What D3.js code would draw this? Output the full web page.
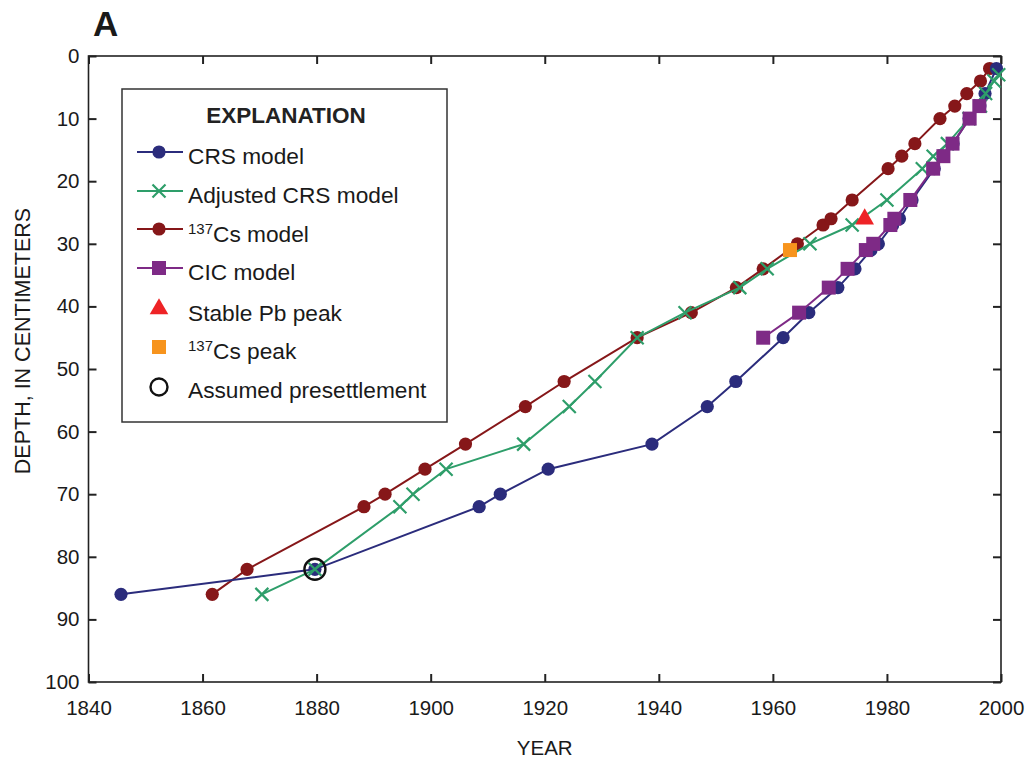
<!DOCTYPE html>
<html>
<head>
<meta charset="utf-8">
<script src="https://cdn.jsdelivr.net/npm/d3@7"></script>
<style>
  html, body { margin: 0; padding: 0; background: #fff; }
  svg { display: block; font-family: Arial, "Liberation Sans", Helvetica, sans-serif; }
</style>
</head>
<body>
<svg id="chart" width="1033" height="763"></svg>
<script>
// ---- Data (year, depth in cm) ----
const crsYears   = [1845.7, 1879.7, 1908.5, 1912.2, 1920.6, 1938.8, 1948.5, 1953.5, 1961.8, 1966.3, 1971.4, 1974.4, 1977.2, 1978.5, 1981.0, 1982.2, 1984.4, 1988.3, 1989.9, 1991.6, 1994.4, 1996.3, 1997.2, 1999.2];
const crsDepth   = [86, 82, 72, 70, 66, 62, 56, 52, 45, 41, 37, 34, 31, 30, 27, 26, 23, 18, 16, 14, 10, 8, 6, 2];

const adjYears   = [1870.4, 1879.7, 1894.6, 1896.9, 1902.7, 1916.3, 1924.3, 1928.8, 1936.2, 1944.6, 1954.2, 1959.0, 1966.5, 1973.9, 1980.0, 1986.2, 1988.1, 1990.6, 1994.4, 1996.4, 1997.3, 1998.8, 1999.6];
const adjDepth   = [86, 82, 72, 70, 66, 62, 56, 52, 45, 41, 37, 34, 30, 27, 23, 18, 16, 14, 10, 8, 6, 4, 3];

const csYears    = [1861.7, 1867.8, 1888.3, 1892.0, 1899.0, 1906.1, 1916.6, 1923.4, 1936.2, 1945.7, 1953.6, 1958.3, 1964.3, 1968.8, 1970.2, 1973.9, 1980.2, 1982.6, 1984.9, 1989.3, 1991.9, 1994.0, 1996.4, 1998.0];
const csDepth    = [86, 82, 72, 70, 66, 62, 56, 52, 45, 41, 37, 34, 30, 27, 26, 23, 18, 16, 14, 10, 8, 6, 4, 2];

const cicYears   = [1958.3, 1964.6, 1969.8, 1973.1, 1976.3, 1977.6, 1980.6, 1981.3, 1984.1, 1988.1, 1989.9, 1991.5, 1994.5, 1996.2];
const cicDepth   = [45, 41, 37, 34, 31, 30, 27, 26, 23, 18, 16, 14, 10, 8];

const pbPeak     = [[1976.1, 26.2]];
const csPeak     = [[1963.0, 31]];
const presettle  = [[1879.7, 82]];

const xTicks = [1840, 1860, 1880, 1900, 1920, 1940, 1960, 1980, 2000];
const yTicks = [0, 10, 20, 30, 40, 50, 60, 70, 80, 90, 100];

const legendLabels = ["CRS model", "Adjusted CRS model", "137|Cs model", "CIC model", "Stable Pb peak", "137|Cs peak", "Assumed presettlement"];

// ---- Colors ----
const C_CRS = "#2b2c7c", C_ADJ = "#2e9e6a", C_CS = "#861719", C_CIC = "#7e2a86", C_PB = "#ee2326", C_CSP = "#f7941d";

const zip = (a, b) => a.map((v, i) => [v, b[i]]);
const svg = d3.select("#chart");

const x = d3.scaleLinear().domain([1840, 2000]).range([88.5, 1001]);
const y = d3.scaleLinear().domain([0, 100]).range([56, 682]);

// ---- Frame & ticks ----
const axisColor = "#222";
const FONT = "Arial, 'Liberation Sans', sans-serif";
const g = svg.append("g");
g.append("rect").attr("x", x(1840)).attr("y", y(0)).attr("width", x(2000) - x(1840)).attr("height", y(100) - y(0))
  .attr("fill", "none").attr("stroke", axisColor).attr("stroke-width", 1.6);

const tl = 8;
g.append("g").attr("transform", `translate(0,${y(100)})`)
  .call(d3.axisBottom(x).tickValues(xTicks).tickFormat(d3.format("d")).tickSizeInner(-tl).tickSizeOuter(0).tickPadding(18))
  .call(a => { a.select(".domain").remove(); a.selectAll("line").attr("stroke", axisColor).attr("stroke-width", 2);
    a.selectAll("text").attr("font-size", 20.5).attr("fill", "#1a1a1a").attr("font-family", FONT); });
g.append("g").attr("transform", `translate(0,${y(0)})`)
  .call(d3.axisTop(x).tickValues(xTicks).tickFormat("").tickSizeInner(-tl).tickSizeOuter(0))
  .call(a => { a.select(".domain").remove(); a.selectAll("line").attr("stroke", axisColor).attr("stroke-width", 2); });
g.append("g").attr("transform", `translate(${x(1840)},0)`)
  .call(d3.axisLeft(y).tickValues(yTicks).tickSizeInner(-tl).tickSizeOuter(0).tickPadding(9))
  .call(a => { a.select(".domain").remove(); a.selectAll("line").attr("stroke", axisColor).attr("stroke-width", 2);
    a.selectAll("text").attr("font-size", 20.5).attr("fill", "#1a1a1a").attr("font-family", FONT); });
g.append("g").attr("transform", `translate(${x(2000)},0)`)
  .call(d3.axisRight(y).tickValues(yTicks).tickFormat("").tickSizeInner(-tl).tickSizeOuter(0))
  .call(a => { a.select(".domain").remove(); a.selectAll("line").attr("stroke", axisColor).attr("stroke-width", 2); });

// Axis titles
svg.append("text").attr("x", (x(1840) + x(2000)) / 2).attr("y", 755).attr("text-anchor", "middle")
  .attr("font-size", 20.5).attr("fill", "#1a1a1a").text("YEAR");
svg.append("text").attr("transform", `translate(30,341) rotate(-90)`).attr("text-anchor", "middle")
  .attr("font-size", 21.5).attr("fill", "#1a1a1a").text("DEPTH, IN CENTIMETERS");
svg.append("text").attr("x", 93).attr("y", 36).attr("font-size", 35).attr("font-weight", "bold")
  .attr("fill", "#1a1a1a").text("A");

// ---- Series ----
const line = d3.line().x(d => x(d[0])).y(d => y(d[1]));
const plot = svg.append("g");

function drawCircles(data, color) {
  plot.append("path").datum(data).attr("d", line).attr("fill", "none").attr("stroke", color).attr("stroke-width", 2);
  plot.append("g").selectAll("circle").data(data).join("circle")
    .attr("cx", d => x(d[0])).attr("cy", d => y(d[1])).attr("r", 6.6).attr("fill", color);
}
function drawX(data, color) {
  plot.append("path").datum(data).attr("d", line).attr("fill", "none").attr("stroke", color).attr("stroke-width", 2);
  const s = 6.5;
  plot.append("g").selectAll("path").data(data).join("path")
    .attr("d", d => { const cx = x(d[0]), cy = y(d[1]);
      return `M${cx - s},${cy - s}L${cx + s},${cy + s}M${cx - s},${cy + s}L${cx + s},${cy - s}`; })
    .attr("stroke", color).attr("stroke-width", 2.2).attr("fill", "none");
}
function drawSquares(data, color, withLine, size) {
  if (withLine) plot.append("path").datum(data).attr("d", line).attr("fill", "none").attr("stroke", color).attr("stroke-width", 2);
  plot.append("g").selectAll("rect").data(data).join("rect")
    .attr("x", d => x(d[0]) - size / 2).attr("y", d => y(d[1]) - size / 2)
    .attr("width", size).attr("height", size).attr("fill", color);
}

drawCircles(zip(csYears, csDepth), C_CS);
drawCircles(zip(crsYears, crsDepth), C_CRS);
drawX(zip(adjYears, adjDepth), C_ADJ);
drawSquares(zip(cicYears, cicDepth), C_CIC, true, 14);

// Stable Pb peak triangle
const tri = d3.symbol().type(d3.symbolTriangle).size(150);
plot.append("g").selectAll("path").data(pbPeak).join("path")
  .attr("transform", d => `translate(${x(d[0])},${y(d[1]) - 1})`).attr("d", tri).attr("fill", C_PB);
drawSquares(csPeak, C_CSP, false, 14);
plot.append("g").selectAll("circle").data(presettle).join("circle")
  .attr("cx", d => x(d[0])).attr("cy", d => y(d[1])).attr("r", 10.5)
  .attr("fill", "none").attr("stroke", "#111").attr("stroke-width", 2.4);

// ---- Legend ----
const lg = svg.append("g");
lg.append("rect").attr("x", 122).attr("y", 89).attr("width", 325).attr("height", 333)
  .attr("fill", "#fff").attr("stroke", "#333").attr("stroke-width", 1.5);
lg.append("text").attr("x", 286).attr("y", 123).attr("text-anchor", "middle")
  .attr("font-size", 22.5).attr("font-weight", "bold").attr("fill", "#222").text("EXPLANATION");

const rowY = [152, 191, 229, 268, 309, 347, 387];
const textY = [164, 203, 242, 280, 321, 359, 398];
const lx0 = 137, lx1 = 183, mx = 159, tx = 188;

legendLabels.forEach((lab, i) => {
  const t = lg.append("text").attr("x", tx).attr("y", textY[i]).attr("font-size", 22.7).attr("fill", "#1a1a1a");
  if (lab.includes("|")) {
    const [sup, rest] = lab.split("|");
    t.append("tspan").attr("font-size", 15).attr("dy", -8).text(sup);
    t.append("tspan").attr("dy", 8).text(rest);
  } else t.text(lab);
});
// legend markers
const ly = i => rowY[i];
[[0, C_CRS], [2, C_CS]].forEach(([i, c]) => {
  lg.append("line").attr("x1", lx0).attr("x2", lx1).attr("y1", ly(i)).attr("y2", ly(i)).attr("stroke", c).attr("stroke-width", 2);
  lg.append("circle").attr("cx", mx).attr("cy", ly(i)).attr("r", 6.6).attr("fill", c);
});
lg.append("line").attr("x1", lx0).attr("x2", lx1).attr("y1", ly(1)).attr("y2", ly(1)).attr("stroke", C_ADJ).attr("stroke-width", 2);
lg.append("path").attr("d", `M${mx - 6.5},${ly(1) - 6.5}L${mx + 6.5},${ly(1) + 6.5}M${mx - 6.5},${ly(1) + 6.5}L${mx + 6.5},${ly(1) - 6.5}`)
  .attr("stroke", C_ADJ).attr("stroke-width", 2.2);
lg.append("line").attr("x1", lx0).attr("x2", lx1).attr("y1", ly(3)).attr("y2", ly(3)).attr("stroke", C_CIC).attr("stroke-width", 2);
lg.append("rect").attr("x", mx - 7).attr("y", ly(3) - 7).attr("width", 14).attr("height", 14).attr("fill", C_CIC);
lg.append("path").attr("transform", `translate(${mx},${ly(4)})`).attr("d", tri).attr("fill", C_PB);
lg.append("rect").attr("x", mx - 7).attr("y", ly(5) - 7).attr("width", 14).attr("height", 14).attr("fill", C_CSP);
lg.append("circle").attr("cx", mx).attr("cy", ly(6)).attr("r", 8.5).attr("fill", "none").attr("stroke", "#111").attr("stroke-width", 2.4);
</script>
</body>
</html>
